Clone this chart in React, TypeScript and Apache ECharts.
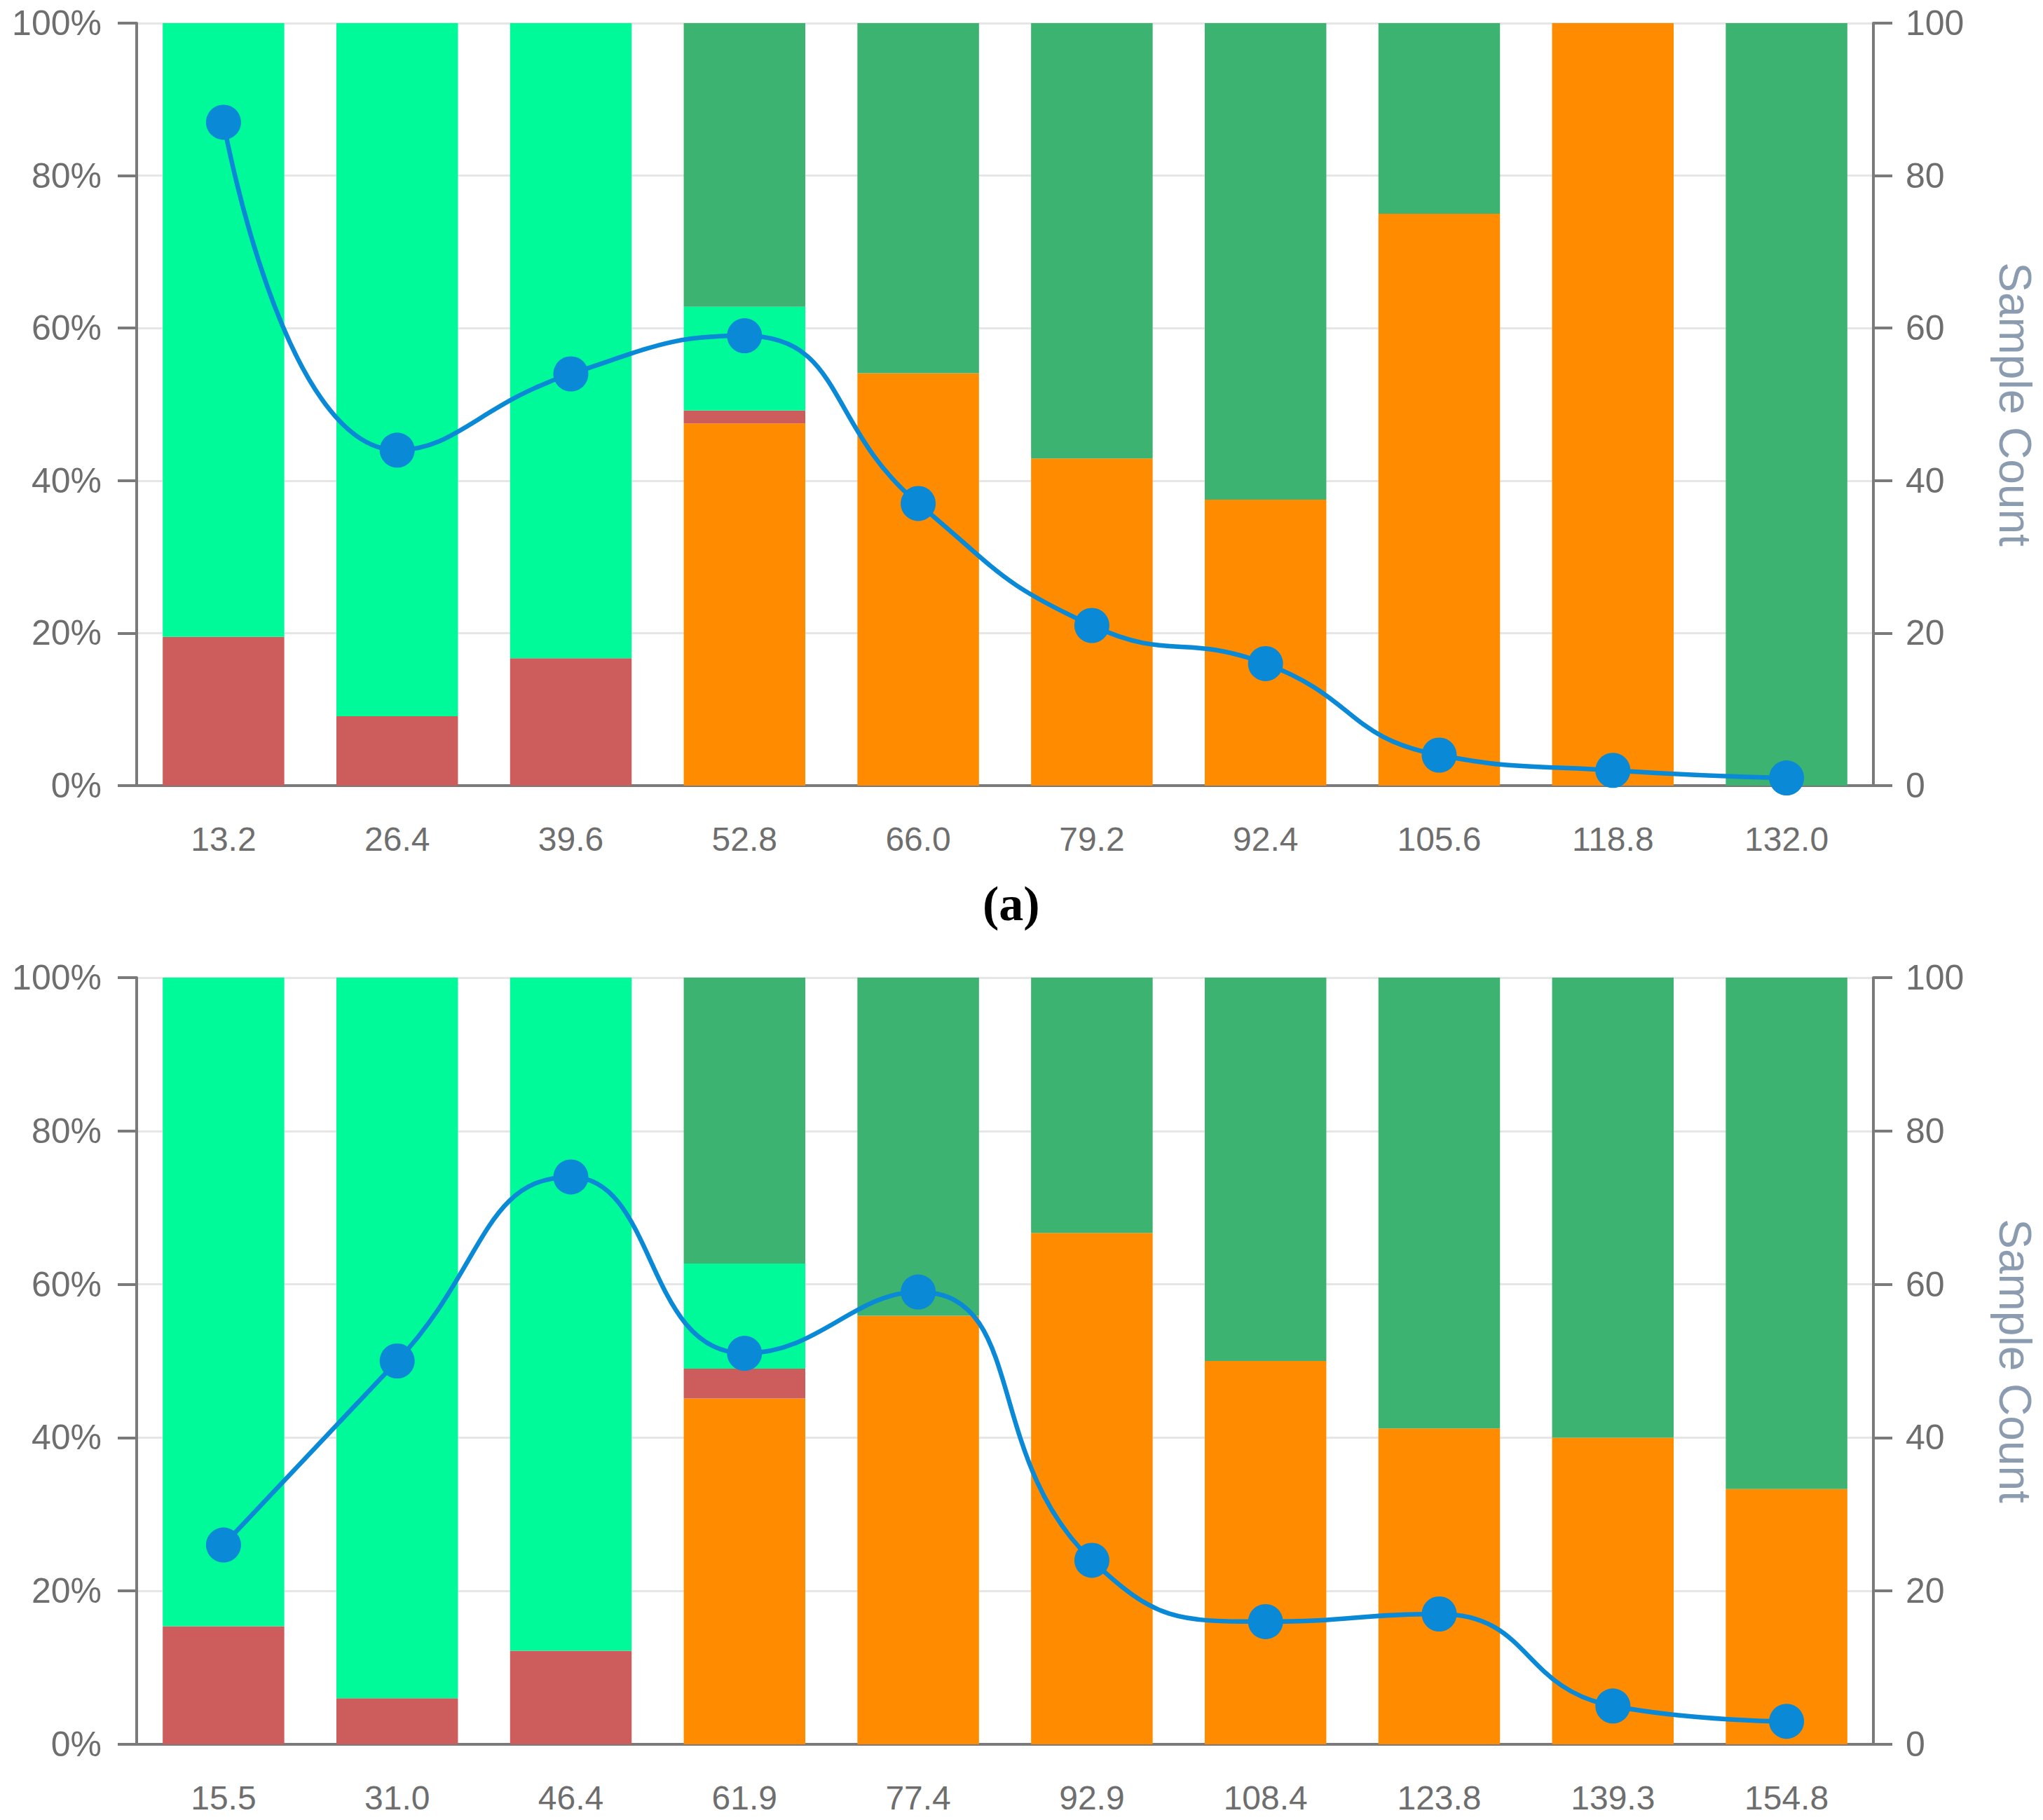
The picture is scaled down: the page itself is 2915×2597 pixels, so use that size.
import { useEffect, useRef } from 'react'
import * as echarts from 'echarts'

// (a)
const catsA = ['13.2', '26.4', '39.6', '52.8', '66.0', '79.2', '92.4', '105.6', '118.8', '132.0']
const orangeA = [0, 0, 0, 47.5, 54.1, 42.9, 37.5, 75, 100, 0]
const redA = [19.5, 9.1, 16.7, 1.7, 0, 0, 0, 0, 0, 0]
const springA = [80.5, 90.9, 83.3, 13.6, 0, 0, 0, 0, 0, 0]
const seaA = [0, 0, 0, 37.2, 45.9, 57.1, 62.5, 25, 0, 100]
const countA = [87, 44, 54, 59, 37, 21, 16, 4, 2, 1]

// (b)
const catsB = ['15.5', '31.0', '46.4', '61.9', '77.4', '92.9', '108.4', '123.8', '139.3', '154.8']
const orangeB = [0, 0, 0, 45.1, 55.9, 66.7, 50, 41.2, 40, 33.3]
const redB = [15.4, 6, 12.2, 3.9, 0, 0, 0, 0, 0, 0]
const springB = [84.6, 94, 87.8, 13.7, 0, 0, 0, 0, 0, 0]
const seaB = [0, 0, 0, 37.3, 44.1, 33.3, 50, 58.8, 60, 66.7]
const countB = [26, 50, 74, 51, 59, 24, 16, 17, 5, 3]

const pctTicks = { min: 0, max: 100, interval: 20 }

const FONT = 'Liberation Sans'
const LABEL = '#6e6e6e'
const AXIS = '#7a7a7a'

const COLORS = {
  orange: '#FF8C00',
  red: '#CD5C5C',
  spring: '#00FA9A',
  sea: '#3CB371',
  line: '#0a89d6',
}

function xAxisFor(cats: string[], gridIndex: number) {
  return {
    type: 'category' as const,
    gridIndex,
    data: cats,
    axisLine: { lineStyle: { color: AXIS, width: 4 } },
    axisTick: { length: 27, lineStyle: { color: AXIS, width: 3 } },
    axisLabel: { color: LABEL, fontSize: 48, fontFamily: FONT, margin: 52 },
    splitLine: { show: false },
  }
}

function leftAxis(gridIndex: number) {
  return {
    type: 'value' as const,
    gridIndex,
    ...pctTicks,
    axisLine: { show: true, lineStyle: { color: AXIS, width: 4 } },
    axisTick: { show: true, length: 27, lineStyle: { color: AXIS, width: 4 } },
    axisLabel: { color: LABEL, fontSize: 50, fontFamily: FONT, margin: 50, formatter: '{value}%' },
    splitLine: { lineStyle: { color: '#e6e6e6', width: 3 } },
  }
}

function rightAxis(gridIndex: number) {
  return {
    type: 'value' as const,
    gridIndex,
    position: 'right' as const,
    ...pctTicks,
    name: 'Sample Count',
    nameLocation: 'middle' as const,
    nameRotate: -90,
    nameGap: 170,
    nameTextStyle: { color: '#8c9cb0', fontSize: 64, fontFamily: FONT },
    axisLine: { show: true, lineStyle: { color: AXIS, width: 4 } },
    axisTick: { show: true, length: 27, lineStyle: { color: AXIS, width: 4 } },
    axisLabel: { color: LABEL, fontSize: 50, fontFamily: FONT, margin: 46 },
    splitLine: { show: false },
  }
}

function barsFor(idx: number, stack: string, o: number[], r: number[], s: number[], g: number[]) {
  const base = {
    type: 'bar' as const,
    stack,
    xAxisIndex: idx,
    yAxisIndex: idx * 2,
    barCategoryGap: '30%',
  }
  return [
    { ...base, name: 'orange', data: o, itemStyle: { color: COLORS.orange } },
    { ...base, name: 'red', data: r, itemStyle: { color: COLORS.red } },
    { ...base, name: 'spring', data: s, itemStyle: { color: COLORS.spring } },
    { ...base, name: 'sea', data: g, itemStyle: { color: COLORS.sea } },
  ]
}

function lineFor(idx: number, data: number[]) {
  return {
    type: 'line' as const,
    xAxisIndex: idx,
    yAxisIndex: idx * 2 + 1,
    data,
    smooth: true,
    symbol: 'circle',
    symbolSize: 50,
    z: 5,
    lineStyle: { color: COLORS.line, width: 6.5 },
    itemStyle: { color: COLORS.line },
  }
}

export default function App() {
  const ref = useRef<HTMLDivElement>(null)

  useEffect(() => {
    if (!ref.current) return
    document.body.style.margin = '0'
    const chart = echarts.init(ref.current, undefined, { renderer: 'svg' })

    const option = {
      animation: false,
      backgroundColor: '#ffffff',
      grid: [
        { left: 195, right: 232, top: 33, height: 1088 },
        { left: 195, right: 232, top: 1395, height: 1094 },
      ],
      xAxis: [xAxisFor(catsA, 0), xAxisFor(catsB, 1)],
      yAxis: [leftAxis(0), rightAxis(0), leftAxis(1), rightAxis(1)],
      series: [
        ...barsFor(0, 'a', orangeA, redA, springA, seaA),
        lineFor(0, countA),
        ...barsFor(1, 'b', orangeB, redB, springB, seaB),
        lineFor(1, countB),
      ],
      graphic: [
        {
          type: 'text',
          left: 1444 - 42,
          top: 1292 - 38,
          style: {
            text: '(a)',
            fontFamily: 'Liberation Serif',
            fontWeight: 'bold',
            fontSize: 70,
            fill: '#000',
          },
        },
      ],
    }

    chart.setOption(option)
    return () => chart.dispose()
  }, [])

  return <div ref={ref} style={{ width: 2915, height: 2597 }} />
}
